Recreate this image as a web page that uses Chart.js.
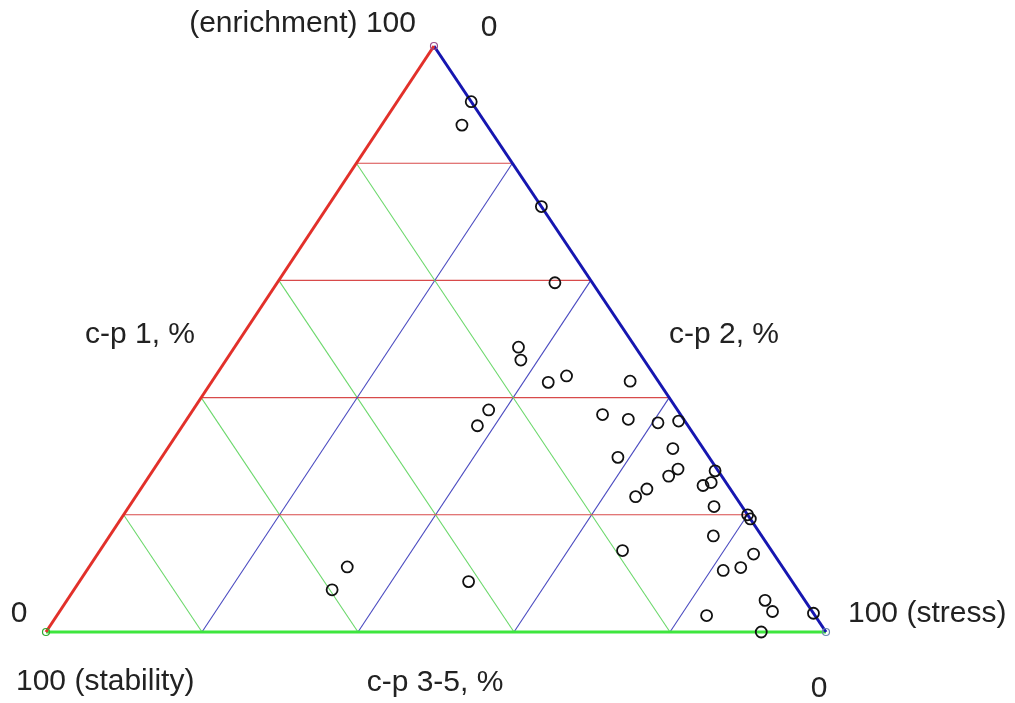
<!DOCTYPE html>
<html>
<head>
<meta charset="utf-8">
<script src="https://cdn.jsdelivr.net/npm/chart.js@4"></script>
<style>
  html, body { margin: 0; padding: 0; background: #fff; }
  #wrap { width: 1015px; height: 703px; }
</style>
</head>
<body>
<div id="wrap"><canvas id="chart" width="1015" height="703"></canvas></div>
<script>
// ternary composition of each sample, %
const cp1 = [90.5, 86.5, 72.6, 59.6, 48.6, 46.4, 42.6, 43.7, 42.8, 37.9,
  35.2, 37.1, 36.3, 35.7, 36.0, 31.3, 29.8, 27.5, 27.8, 26.6,
  25.5, 25.0, 24.4, 23.1, 21.4, 20.0, 19.3, 16.4, 13.9, 13.3,
  11.0, 10.5, 11.1, 7.2, 8.6, 5.4, 3.5, 2.8, 3.2, 0.0]
const cp2 = [9.5, 10.3, 27.4, 35.6, 36.4, 37.8, 43.2, 45.0, 53.6, 37.9,
  37.8, 52.9, 56.6, 60.7, 63.2, 64.8, 58.5, 72.1, 67.2, 66.6,
  72.6, 71.8, 64.9, 64.1, 75.0, 80.0, 80.7, 77.4, 67.0, 84.1,
  83.6, 81.6, 33.1, 33.1, 49.9, 89.5, 91.4, 83.3, 96.8, 91.7]
const cp35 = [0.0, 3.2, 0.0, 4.8, 15.0, 15.8, 14.2, 11.3, 3.6, 24.2,
  27.0, 10.0, 7.1, 3.6, 0.8, 3.9, 11.7, 0.4, 5.0, 6.8,
  1.9, 3.2, 10.7, 12.8, 3.6, 0.0, 0.0, 6.2, 19.1, 2.6,
  5.4, 7.9, 55.8, 59.7, 41.5, 5.1, 5.1, 13.9, 0.0, 8.3]
const gridLevels = [20, 40, 60, 80]

// where the top corner sits along the base (0..100)
const apexX = 49.74
const toXY = (a, b) => ({ x: b + a * apexX / 100, y: a })

const line = (p, q, color, width) => ({
  data: [p, q],
  showLine: true,
  borderColor: color,
  borderWidth: width,
  pointRadius: 0,
  clip: false,
})

const datasets = []

// samples
datasets.push({
  data: cp1.map((a, i) => toXY(a, cp2[i])),
  pointStyle: 'circle',
  pointRadius: 5.5,
  borderColor: '#111',
  borderWidth: 1.8,
  backgroundColor: 'rgba(0,0,0,0)',
  clip: false,
  order: 0,
})

// corner markers
const corners = [
  { pt: toXY(100, 0), color: '#9a4a8a' },
  { pt: toXY(0, 0), color: '#2fa82f' },
  { pt: toXY(0, 100), color: '#6a86b0' },
]
corners.forEach((c) => {
  datasets.push({
    data: [c.pt],
    pointRadius: 3.5,
    borderColor: c.color,
    borderWidth: 1.2,
    backgroundColor: 'rgba(0,0,0,0)',
    clip: false,
    order: 1,
  })
})

// outer edges
datasets.push({ ...line(toXY(0, 0), toXY(100, 0), '#e2302a', 3), order: 2 })
datasets.push({ ...line(toXY(100, 0), toXY(0, 100), '#1616b0', 3), order: 2 })
datasets.push({ ...line(toXY(0, 0), toXY(0, 100), '#3ee63e', 3), order: 2 })

// inner grid
gridLevels.forEach((g) => {
  datasets.push({ ...line(toXY(g, 0), toXY(g, 100 - g), '#d84a4a', 1.1), order: 3 })
  datasets.push({ ...line(toXY(0, 100 - g), toXY(100 - g, 0), '#6cd86c', 1.1), order: 3 })
  datasets.push({ ...line(toXY(0, g), toXY(100 - g, g), '#4a4ac0', 1.1), order: 3 })
})

const labelPlugin = {
  id: 'ternaryLabels',
  afterDraw(chart) {
    const { ctx, scales } = chart
    const px = (p) => ({ x: scales.x.getPixelForValue(p.x), y: scales.y.getPixelForValue(p.y) })
    const T = px(toXY(100, 0))
    const L = px(toXY(0, 0))
    const R = px(toXY(0, 100))
    const labels = [
      { text: '(enrichment) 100', x: T.x - 18, y: T.y - 14, align: 'right' },
      { text: '0', x: T.x + 55, y: T.y - 10, align: 'center' },
      { text: 'c-p 1, %', x: (T.x + L.x) / 2 - 100, y: (T.y + L.y) / 2 + 4, align: 'center' },
      { text: 'c-p 2, %', x: (T.x + R.x) / 2 + 94, y: (T.y + R.y) / 2 + 4, align: 'center' },
      { text: '0', x: L.x - 27, y: L.y - 10, align: 'center' },
      { text: '100 (stability)', x: L.x - 30, y: L.y + 58, align: 'left' },
      { text: 'c-p 3-5, %', x: (L.x + R.x) / 2 - 1, y: L.y + 59, align: 'center' },
      { text: '0', x: R.x - 7, y: R.y + 65, align: 'center' },
      { text: '100 (stress)', x: R.x + 22, y: R.y - 10, align: 'left' },
    ]
    ctx.save()
    ctx.fillStyle = '#222'
    ctx.font = '30px "Liberation Sans", Arial, sans-serif'
    ctx.textBaseline = 'alphabetic'
    labels.forEach((l) => {
      ctx.textAlign = l.align
      ctx.fillText(l.text, l.x, l.y)
    })
    ctx.restore()
  },
}

new Chart(document.getElementById('chart').getContext('2d'), {
  type: 'scatter',
  data: { datasets },
  options: {
    responsive: false,
    animation: false,
    layout: { padding: { left: 46, right: 189, top: 46, bottom: 71 } },
    plugins: { legend: { display: false }, tooltip: { enabled: false } },
    scales: {
      x: { type: 'linear', min: 0, max: 100, display: false },
      y: { type: 'linear', min: 0, max: 100, display: false },
    },
  },
  plugins: [labelPlugin],
})
</script>
</body>
</html>
